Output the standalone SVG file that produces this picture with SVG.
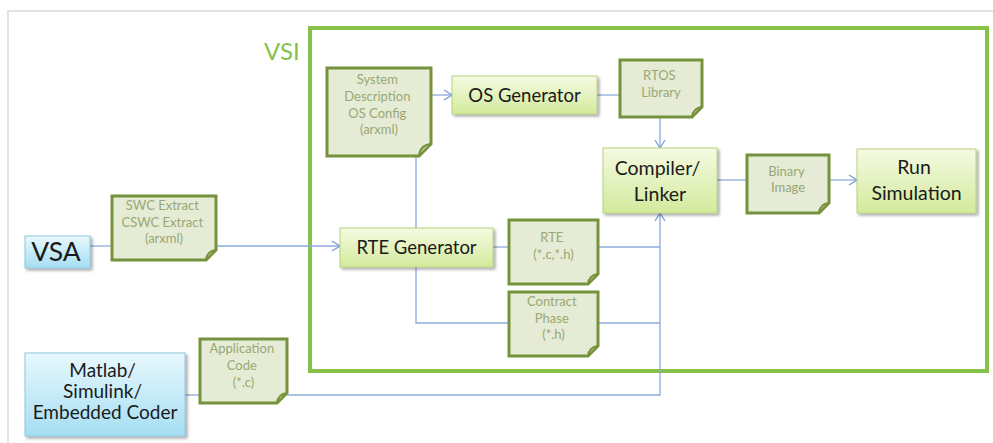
<svg xmlns="http://www.w3.org/2000/svg" width="993" height="443" viewBox="0 0 993 443">
  <defs>
    <linearGradient id="gGreen" x1="0" y1="0" x2="0" y2="1">
      <stop offset="0" stop-color="#f5fae2"/>
      <stop offset="1" stop-color="#d3ea9c"/>
    </linearGradient>
    <linearGradient id="gBlue" x1="0" y1="0" x2="0" y2="1">
      <stop offset="0" stop-color="#e8f8fd"/>
      <stop offset="1" stop-color="#a5def3"/>
    </linearGradient>
    <filter id="shadow" x="-10%" y="-10%" width="130%" height="140%">
      <feGaussianBlur in="SourceAlpha" stdDeviation="1.5"/>
      <feOffset dx="1.5" dy="2" result="b"/>
      <feComponentTransfer><feFuncA type="linear" slope="0.35"/></feComponentTransfer>
      <feMerge><feMergeNode/><feMergeNode in="SourceGraphic"/></feMerge>
    </filter>
    <marker id="arrow" viewBox="0 0 12 12" refX="11" refY="6" markerWidth="12" markerHeight="12" markerUnits="userSpaceOnUse" orient="auto">
      <path d="M3,1 L11,6 L3,11" fill="none" stroke="#7d9fd6" stroke-width="1.3"/>
    </marker>
  </defs>
  <style>
    .frame { fill: none; stroke: #dadada; stroke-width: 1.5; }
    .vsi { fill: none; stroke: #86c24a; stroke-width: 4; }
    .vsiLabel { font-family: Lato, "Liberation Sans", sans-serif; font-size: 24px; fill: #86c24a; }
    .proc { fill: url(#gGreen); stroke: #b8d27e; stroke-width: 1; filter: url(#shadow); }
    .src { fill: url(#gBlue); stroke: #8ec8de; stroke-width: 1; filter: url(#shadow); }
    .doc { fill: #e6ebd6; stroke: #76923c; stroke-width: 3; stroke-linejoin: miter; }
    .fold { fill: #c4d49a; stroke: #76923c; stroke-width: 2; stroke-linejoin: round; }
    .ptext { font-family: Lato, "Liberation Sans", sans-serif; fill: #1a1a1a; text-anchor: middle; }
    .dtext { font-family: Lato, "Liberation Sans", sans-serif; fill: #98a873; text-anchor: middle; font-size: 13px; }
    .conn { fill: none; stroke: #8eaadb; stroke-width: 1.3; }
  </style>

  <!-- outer page edge -->
  <path class="frame" d="M8,443 V11 H993"/>

  <!-- VSI boundary -->
  <g id="vsi">
    <rect class="vsi" x="310" y="28" width="677" height="343"/>
    <text class="vsiLabel" x="264" y="60">VSI</text>
  </g>

  <!-- connectors -->
  <g id="connectors">
    <path class="conn" d="M90,246 H112"/>
    <path class="conn" d="M216,246 H340" marker-end="url(#arrow)"/>
    <path class="conn" d="M431,95 H452" marker-end="url(#arrow)"/>
    <path class="conn" d="M597,95 H620"/>
    <path class="conn" d="M660,117 V148" marker-end="url(#arrow)"/>
    <path class="conn" d="M416,156 V323 H509"/>
    <path class="conn" d="M493,247 H509"/>
    <path class="conn" d="M598,247 H660"/>
    <path class="conn" d="M598,323 H660"/>
    <path class="conn" d="M185,395 H200"/>
    <path class="conn" d="M287,395 H660 V213" marker-end="url(#arrow)"/>
    <path class="conn" d="M717,180 H747"/>
    <path class="conn" d="M829,180 H857" marker-end="url(#arrow)"/>
  </g>

  <!-- source tools -->
  <g id="vsa">
    <rect class="src" x="25" y="236" width="65" height="32"/>
    <text class="ptext" x="56" y="261" font-size="26.5">VSA</text>
  </g>
  <g id="matlab">
    <rect class="src" x="25" y="353" width="160" height="83"/>
    <text class="ptext" font-size="19">
      <tspan x="105" y="377">Matlab/</tspan>
      <tspan x="105" y="398">Simulink/</tspan>
      <tspan x="105" y="419">Embedded  Coder</tspan>
    </text>
  </g>

  <!-- artefact documents -->
  <g id="swc-extract">
    <path class="doc" d="M112,196 H216 V250 L206,260 H112 Z"/>
    <path class="fold" d="M216,250 L206,260 Q207,251 216,250 Z"/>
    <text class="dtext">
      <tspan x="164" y="210">SWC Extract</tspan>
      <tspan x="164" y="227">CSWC Extract</tspan>
      <tspan x="164" y="243">(arxml)</tspan>
    </text>
  </g>
  <g id="system-description">
    <path class="doc" d="M327,68 H431 V144 L419,156 H327 Z"/>
    <path class="fold" d="M431,144 L419,156 Q420,145 431,144 Z"/>
    <text class="dtext" font-size="14">
      <tspan x="379" y="84">System</tspan>
      <tspan x="379" y="101">Description</tspan>
      <tspan x="379" y="118">OS Config</tspan>
      <tspan x="379" y="134">(arxml)</tspan>
    </text>
  </g>
  <g id="rtos-library">
    <path class="doc" d="M620,60 H702 V107 L692,117 H620 Z"/>
    <path class="fold" d="M702,107 L692,117 Q693,108 702,107 Z"/>
    <text class="dtext" font-size="11.5">
      <tspan x="661" y="80">RTOS</tspan>
      <tspan x="661" y="97">Library</tspan>
    </text>
  </g>
  <g id="binary-image">
    <path class="doc" d="M747,155 H829 V203 L819,213 H747 Z"/>
    <path class="fold" d="M829,203 L819,213 Q820,204 829,203 Z"/>
    <text class="dtext" font-size="11.5">
      <tspan x="788" y="176">Binary</tspan>
      <tspan x="788" y="192">Image</tspan>
    </text>
  </g>
  <g id="rte-files">
    <path class="doc" d="M509,220 H598 V274 L588,284 H509 Z"/>
    <path class="fold" d="M598,274 L588,284 Q589,275 598,274 Z"/>
    <text class="dtext">
      <tspan x="553.5" y="242">RTE</tspan>
      <tspan x="553.5" y="259">(*.c,*.h)</tspan>
    </text>
  </g>
  <g id="contract-phase">
    <path class="doc" d="M509,292 H598 V346 L588,356 H509 Z"/>
    <path class="fold" d="M598,346 L588,356 Q589,347 598,346 Z"/>
    <text class="dtext" font-size="13.5">
      <tspan x="553.5" y="306">Contract</tspan>
      <tspan x="553.5" y="323">Phase</tspan>
      <tspan x="553.5" y="339">(*.h)</tspan>
    </text>
  </g>
  <g id="application-code">
    <path class="doc" d="M200,339 H287 V393 L277,403 H200 Z"/>
    <path class="fold" d="M287,393 L277,403 Q278,394 287,393 Z"/>
    <text class="dtext" font-size="13.5">
      <tspan x="243.5" y="353">Application</tspan>
      <tspan x="243.5" y="370">Code</tspan>
      <tspan x="243.5" y="387">(*.c)</tspan>
    </text>
  </g>

  <!-- processing steps -->
  <g id="os-generator">
    <rect class="proc" x="452" y="76" width="145" height="38"/>
    <text class="ptext" x="524.5" y="102" font-size="18.5">OS Generator</text>
  </g>
  <g id="rte-generator">
    <rect class="proc" x="340" y="228" width="153" height="39"/>
    <text class="ptext" x="416.5" y="254" font-size="18.5">RTE Generator</text>
  </g>
  <g id="compiler-linker">
    <rect class="proc" x="603" y="148" width="114" height="65"/>
    <text class="ptext" font-size="19.5">
      <tspan x="660" y="175">Compiler/</tspan>
      <tspan x="660" y="201">Linker</tspan>
    </text>
  </g>
  <g id="run-simulation">
    <rect class="proc" x="857" y="149" width="119" height="64"/>
    <text class="ptext" font-size="19.5">
      <tspan x="916.5" y="174">Run</tspan>
      <tspan x="916.5" y="200">Simulation</tspan>
    </text>
  </g>
</svg>
